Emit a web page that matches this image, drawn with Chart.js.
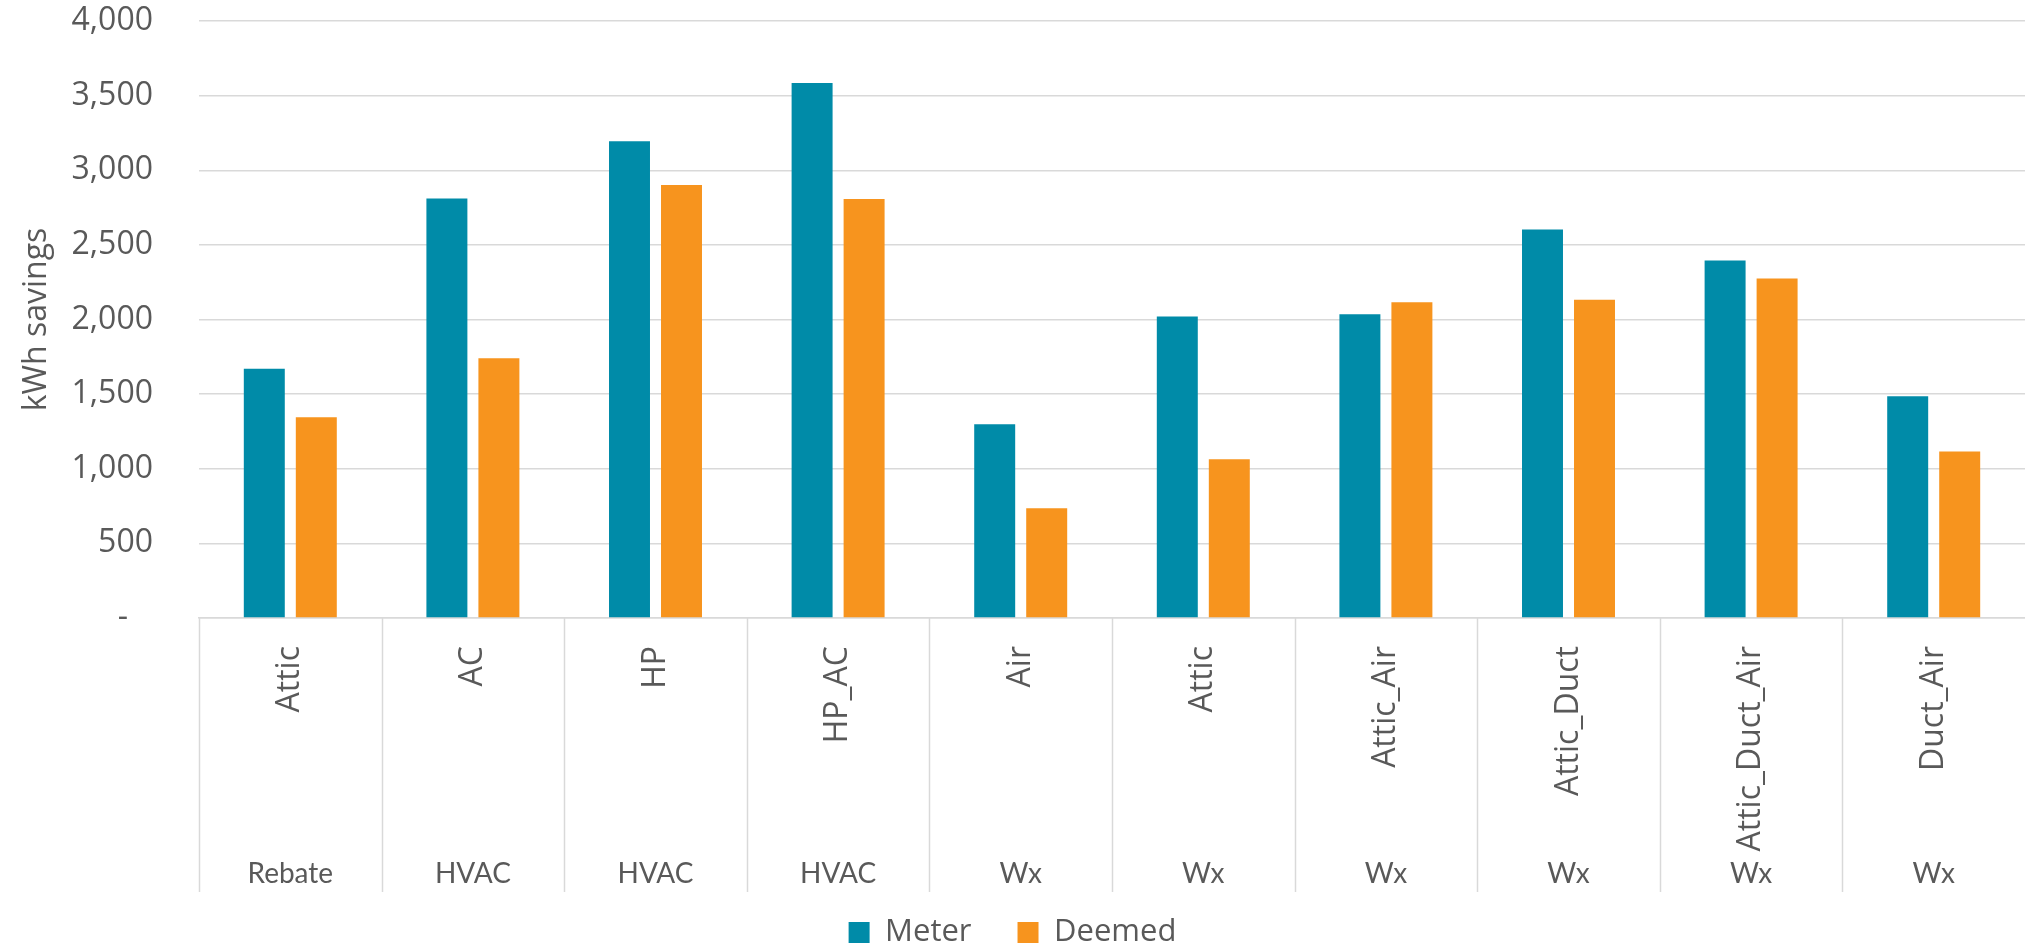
<!DOCTYPE html>
<html>
<head>
<meta charset="utf-8">
<script src="https://cdn.jsdelivr.net/npm/chart.js@4.4.1/dist/chart.umd.min.js"></script>
<style>
  html, body { margin: 0; padding: 0; background: #ffffff; }
  #wrap { width: 2025px; height: 952px; }
</style>
</head>
<body>
<div id="wrap"><canvas id="savings" width="2025" height="952"></canvas></div>
<script>
// Measure (inner axis row) and program (outer axis row) for each bar group
const measures = ['Attic', 'AC', 'HP', 'HP_AC', 'Air', 'Attic', 'Attic_Air', 'Attic_Duct', 'Attic_Duct_Air', 'Duct_Air'];
const programs = ['Rebate', 'HVAC', 'HVAC', 'HVAC', 'Wx', 'Wx', 'Wx', 'Wx', 'Wx', 'Wx'];

// Annual kWh savings per household
const meterKwh  = [1670, 2810, 3195, 3585, 1298, 2020, 2035, 2603, 2395, 1486];
const deemedKwh = [1345, 1741, 2902, 2808,  736, 1063, 2115, 2133, 2274, 1115];

// Value axis
const yMin = 0;
const yMax = 4000;
const yStep = 500;

const TEXT = '#595959';
const RULE = '#d9d9d9';

// Draws the divider lines and the outer program row under the category axis
const groupAxis = {
  id: 'groupAxis',
  afterDraw(chart) {
    const xs = chart.scales.x;
    const ctx = chart.ctx;
    const top = chart.chartArea.bottom;
    const step = (xs.right - xs.left) / measures.length;
    ctx.save();
    ctx.strokeStyle = RULE;
    ctx.lineWidth = 1.5;
    for (let i = 0; i < measures.length; i++) {
      const gx = Math.round(xs.left + i * step) + 0.5;
      ctx.beginPath();
      ctx.moveTo(gx, top);
      ctx.lineTo(gx, top + 274);
      ctx.stroke();
    }
    ctx.font = '28px Lato';
    ctx.fillStyle = TEXT;
    ctx.textAlign = 'center';
    ctx.textBaseline = 'middle';
    programs.forEach((p, i) => ctx.fillText(p, xs.getPixelForValue(i), top + 256));
    ctx.restore();
  }
};

function build() {
  new Chart(document.getElementById('savings'), {
    type: 'bar',
    data: {
      labels: measures,
      datasets: [
        { label: 'Meter',  data: meterKwh,  backgroundColor: '#008ba8', borderWidth: 0 },
        { label: 'Deemed', data: deemedKwh, backgroundColor: '#f7941e', borderWidth: 0 }
      ]
    },
    options: {
      responsive: false,
      animation: false,
      devicePixelRatio: 1,
      layout: { padding: { top: 21, right: 0, left: 0, bottom: -6 } },
      datasets: { bar: { categoryPercentage: 0.5696, barPercentage: 0.788 } },
      plugins: {
        legend: {
          position: 'bottom',
          labels: {
            boxWidth: 21,
            boxHeight: 21,
            padding: 46,
            color: TEXT,
            font: { family: '"Open Sans"', size: 31 }
          }
        },
        tooltip: { enabled: false }
      },
      scales: {
        x: {
          grid: { display: false, drawTicks: false },
          border: { display: true, color: RULE, width: 1.5 },
          ticks: {
            autoSkip: false,
            minRotation: 90,
            maxRotation: 90,
            padding: 28,
            color: TEXT,
            font: { family: '"Open Sans"', size: 32 }
          },
          afterFit(scale) {
            scale.height = 253;
            scale.paddingLeft = 0;
            scale.paddingRight = 0;
          }
        },
        y: {
          min: yMin,
          max: yMax,
          grid: { color: RULE, lineWidth: 1.5, drawTicks: false },
          border: { display: false },
          ticks: {
            stepSize: yStep,
            padding: 46,
            color: TEXT,
            font: { family: '"Open Sans"', size: 32 },
            callback: v => v === 0 ? '-   ' : v.toLocaleString('en-US')
          },
          title: {
            display: true,
            text: 'kWh savings',
            color: TEXT,
            font: { family: '"Open Sans"', size: 32 },
            padding: { top: 18, bottom: 10 }
          },
          afterFit(scale) {
            scale.width = 199;
            scale.paddingTop = 0;
            scale.paddingBottom = 0;
          }
        }
      }
    },
    plugins: [groupAxis]
  });
}

Promise.all([
  document.fonts.load('32px "Open Sans"'),
  document.fonts.load('28px Lato')
]).then(build, build);
</script>
</body>
</html>
